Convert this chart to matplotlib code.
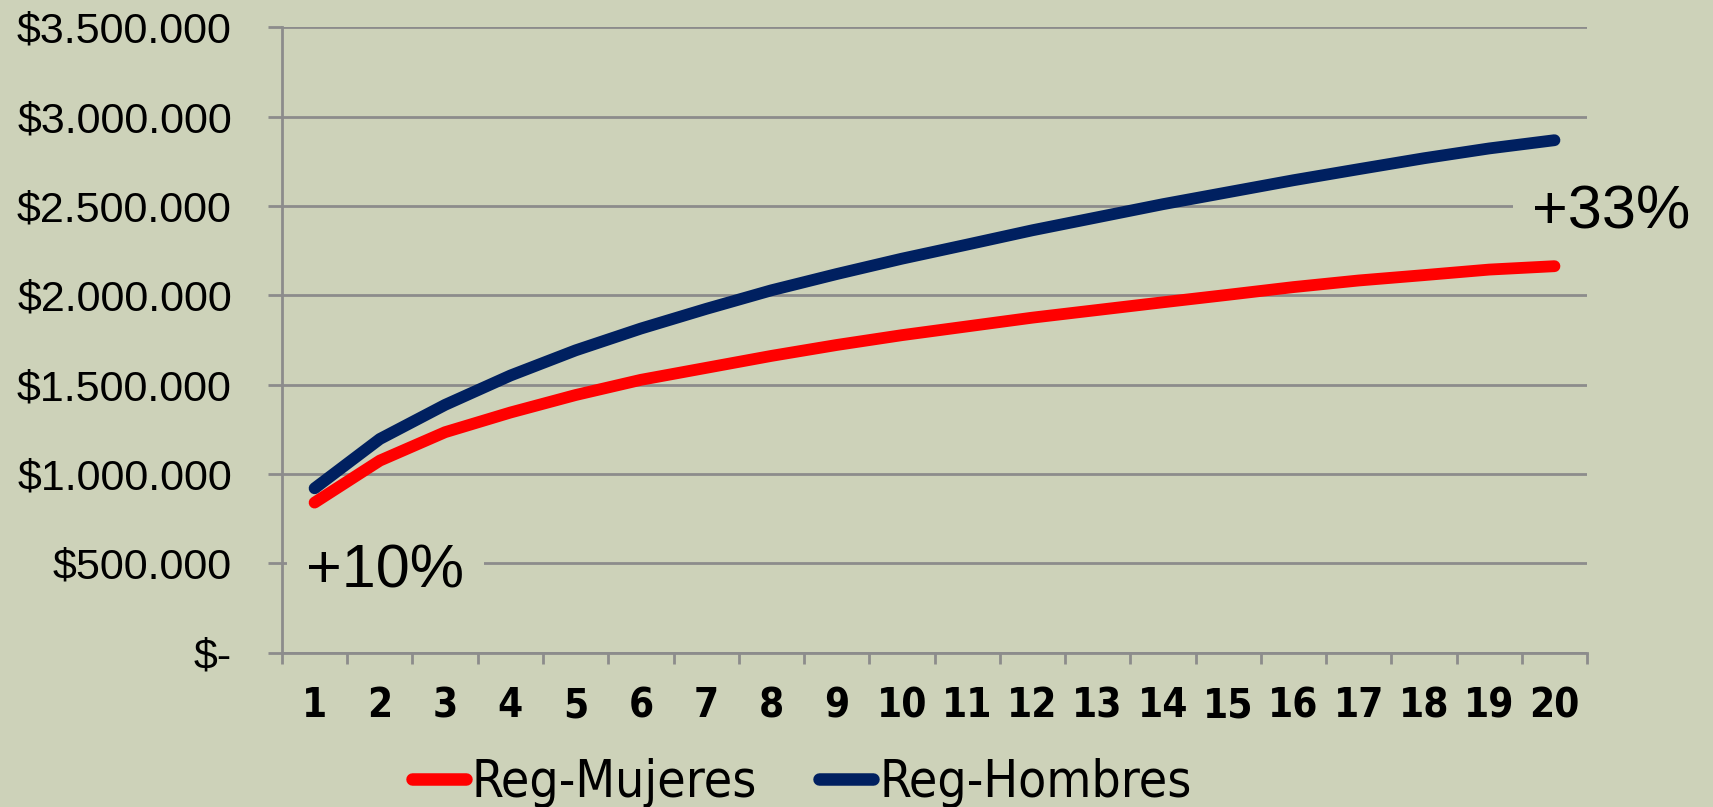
"""Regression curves: Reg-Mujeres vs Reg-Hombres by year."""

import matplotlib

matplotlib.use("Agg")
import matplotlib.pyplot as plt
from matplotlib.ticker import FuncFormatter, FixedLocator

years = list(range(1, 21))
reg_mujeres = [840000, 1075000, 1234000, 1344000, 1442000, 1527000, 1594000, 1661000, 1722000, 1777000,
               1826000, 1875000, 1918000, 1961000, 2003000, 2046000, 2083000, 2113000, 2144000, 2163000]
reg_hombres = [920000, 1196000, 1387000, 1551000, 1692000, 1814000, 1924000, 2028000, 2119000, 2205000,
               2284000, 2364000, 2437000, 2510000, 2577000, 2644000, 2706000, 2767000, 2822000, 2868000]
y_ticks = [0, 500000, 1000000, 1500000, 2000000, 2500000, 3000000, 3500000]
labels = ["Reg-Mujeres", "Reg-Hombres"]
notes = ["+10%", "+33%"]

BG = "#cdd2b9"
GRID = "#8c8c8c"
SANS = ["Liberation Sans", "DejaVu Sans"]
NARROW = ["DejaVu Sans"]


def money(v, _pos):
    if v == 0:
        return "$-"
    return "$" + f"{int(v):,}".replace(",", ".")


fig = plt.figure(figsize=(17.13, 8.07), dpi=100, facecolor=BG)
ax = fig.add_axes([0.1646, 0.1912, 0.7619, 0.775], facecolor=BG)

ax.plot(years, reg_mujeres, color="#ff0000", linewidth=8.5, solid_capstyle="round",
        solid_joinstyle="round", label=labels[0], zorder=3)
ax.plot(years, reg_hombres, color="#002060", linewidth=8.5, solid_capstyle="round",
        solid_joinstyle="round", label=labels[1], zorder=3)

ax.set_xlim(0.5, 20.5)
ax.set_ylim(0, 3500000)
ax.set_yticks(y_ticks)
ax.yaxis.set_major_formatter(FuncFormatter(money))
ax.grid(axis="y", color=GRID, linewidth=2)
ax.set_axisbelow(True)

ax.set_xticks(years)
ax.xaxis.set_minor_locator(FixedLocator([i + 0.5 for i in range(0, 21)]))
ax.tick_params(axis="x", which="major", length=0, pad=24)
ax.tick_params(axis="x", which="minor", length=8, width=2, color=GRID)
ax.tick_params(axis="y", length=10, width=2, color=GRID, pad=26)

for lbl in ax.get_yticklabels():
    lbl.set_fontfamily(SANS)
    lbl.set_fontsize(31)
for lbl in ax.get_xticklabels():
    lbl.set_fontfamily(NARROW)
    lbl.set_fontstretch("condensed")
    lbl.set_fontsize(29)
    lbl.set_fontweight("bold")

for side in ("top", "right"):
    ax.spines[side].set_visible(False)
for side in ("left", "bottom"):
    ax.spines[side].set_color(GRID)
    ax.spines[side].set_linewidth(2)

box = dict(facecolor=BG, edgecolor="none", pad=14)
ax.text(0.87, 452000, notes[0], fontsize=44, family=SANS, ha="left", va="center", bbox=box, zorder=2)
ax.text(19.66, 2462000, notes[1], fontsize=44, family=SANS, ha="left", va="center", bbox=box, zorder=2)

leg = fig.legend(loc="center", bbox_to_anchor=(0.468, 0.03), ncol=2, frameon=False,
                 prop={"family": NARROW, "size": 37, "stretch": "condensed"},
                 handlelength=1.05, handletextpad=0.12, columnspacing=1.2)
for h in leg.get_lines():
    h.set_linewidth(9)
    h.set_solid_capstyle("round")

fig.savefig("out.png", dpi=100, facecolor=BG)
